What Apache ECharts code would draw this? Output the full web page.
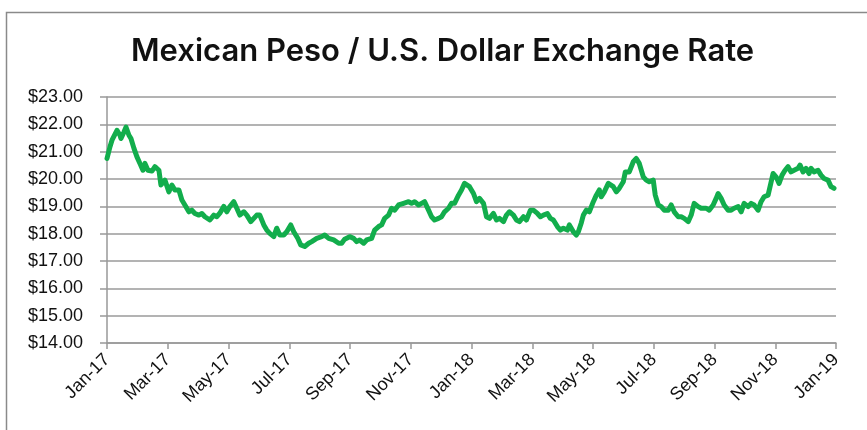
<!DOCTYPE html>
<html><head><meta charset="utf-8">
<script src="https://cdn.jsdelivr.net/npm/echarts@6/dist/echarts.min.js"></script>
<style>html,body{margin:0;padding:0;background:#fff}#c{width:867px;height:430px}</style>
</head><body><div id="c"></div>
<script>
const titleText = 'Mexican Peso / U.S. Dollar Exchange Rate';
const xTickLabels = ['Jan-17','Mar-17','May-17','Jul-17','Sep-17','Nov-17','Jan-18','Mar-18','May-18','Jul-18','Sep-18','Nov-18','Jan-19'];
const yMin = 14, yMax = 23, yStep = 1;
const totalDays = 730;
// day offsets since 2017-01-01
const dayOffsets = [0,3,5,7,10,13,14,17,19,22,24,27,30,33,36,38,41,45,48,52,54,58,62,65,68,72,75,78,82,85,88,92,95,98,103,107,110,113,117,120,123,127,130,133,137,140,144,147,150,153,157,160,163,167,170,173,177,180,184,187,191,194,198,202,205,210,215,218,222,227,232,235,238,243,247,250,253,257,260,265,268,272,275,278,282,285,288,292,297,302,305,308,312,315,318,322,325,328,332,335,338,342,345,348,352,355,358,360,363,367,370,373,377,380,383,387,390,393,397,400,403,407,410,413,417,420,424,427,431,434,437,441,444,447,451,454,457,461,463,467,470,472,475,477,480,483,487,490,493,495,498,502,504,507,510,513,517,519,523,527,530,533,537,540,543,547,549,552,555,558,562,565,568,572,575,578,582,585,588,592,595,597,600,603,607,610,612,615,618,622,625,628,632,635,638,642,645,648,652,655,658,662,664,667,670,673,676,679,682,685,688,692,694,697,700,703,705,708,712,715,718,722,725,728];
// MXN per USD
const rates = [20.75,21.18,21.42,21.36,21.78,21.60,21.48,21.72,21.90,21.60,21.48,21.12,20.81,20.57,20.32,20.57,20.32,20.29,20.45,20.32,19.78,19.96,19.53,19.78,19.60,19.60,19.23,19.05,18.80,18.86,18.74,18.68,18.74,18.62,18.50,18.68,18.62,18.75,19.00,18.80,18.99,19.17,18.93,18.68,18.80,18.68,18.44,18.56,18.68,18.68,18.32,18.13,18.01,17.89,18.20,17.95,17.95,18.07,18.32,18.07,17.83,17.59,17.53,17.65,17.71,17.83,17.89,17.95,17.83,17.77,17.65,17.65,17.80,17.89,17.83,17.71,17.77,17.65,17.77,17.83,18.13,18.26,18.32,18.56,18.68,18.93,18.86,19.05,19.11,19.17,19.11,19.17,19.05,19.11,19.17,18.86,18.62,18.50,18.56,18.62,18.80,18.93,19.11,19.11,19.41,19.60,19.84,19.84,19.72,19.47,19.17,19.29,19.11,18.62,18.56,18.74,18.50,18.56,18.44,18.68,18.80,18.68,18.50,18.44,18.62,18.50,18.86,18.86,18.74,18.62,18.68,18.74,18.56,18.50,18.26,18.13,18.20,18.13,18.32,18.07,17.95,18.07,18.40,18.68,18.86,18.80,19.17,19.41,19.60,19.35,19.53,19.84,19.90,19.72,19.53,19.66,19.90,20.26,20.26,20.63,20.75,20.57,20.08,19.96,19.90,19.96,19.41,19.05,18.99,18.86,18.86,19.05,18.80,18.62,18.62,18.56,18.44,18.68,19.11,18.99,18.93,18.86,18.93,18.86,19.05,19.29,19.47,19.29,19.05,18.86,18.86,18.93,18.99,18.80,19.11,18.99,19.11,19.05,18.86,19.17,19.35,19.41,19.47,20.20,20.08,19.84,20.14,20.32,20.45,20.26,20.32,20.39,20.51,20.26,20.39,20.20,20.39,20.26,20.32,20.14,20.02,19.96,19.72,19.66];

const monthsSpan = (xTickLabels.length - 1) * 2;
const seriesData = dayOffsets.map((d, i) => [d * monthsSpan / totalDays, rates[i]]);

const chart = echarts.init(document.getElementById('c'));
chart.setOption({
  backgroundColor: '#fff',
  animation: false,
  graphic: [{
    type: 'rect', shape: {x: 6.5, y: 12.5, width: 900, height: 450},
    style: {fill: 'none', stroke: '#8a8a8a', lineWidth: 1.5}, silent: true
  }],
  title: {
    text: titleText, left: 126, top: 31,
    textStyle: {fontFamily: 'Inter, Roboto, sans-serif', fontSize: 31, fontWeight: 600, color: '#111'}
  },
  grid: {left: 107, right: 31, top: 97, bottom: 87, containLabel: false},
  xAxis: {
    type: 'value', min: 0, max: monthsSpan, interval: 2,
    axisLine: {show: true, lineStyle: {color: '#999', width: 1.5}},
    axisTick: {show: true, length: 6, lineStyle: {color: '#999', width: 1.5}},
    splitLine: {show: false},
    axisLabel: {
      rotate: 45, margin: 14, color: '#111', fontSize: 18,
      fontFamily: 'Liberation Sans, Arial, sans-serif',
      formatter: v => xTickLabels[Math.round(v / 2)] || ''
    }
  },
  yAxis: {
    type: 'value', min: yMin, max: yMax, interval: yStep,
    axisLine: {show: true, lineStyle: {color: '#999', width: 1.5}},
    axisTick: {show: true, length: 7, lineStyle: {color: '#999', width: 1.5}},
    splitLine: {show: true, lineStyle: {color: '#9a9a9a', width: 1.5}},
    axisLabel: {
      margin: 24, color: '#111', fontSize: 18,
      fontFamily: 'Liberation Sans, Arial, sans-serif',
      formatter: v => '$' + v.toFixed(2)
    }
  },
  series: [{
    type: 'line', data: seriesData, showSymbol: false, symbol: 'none',
    lineStyle: {color: '#12ad4c', width: 5, join: 'round', cap: 'round'},
    itemStyle: {color: '#12ad4c'}
  }]
});
</script></body></html>
